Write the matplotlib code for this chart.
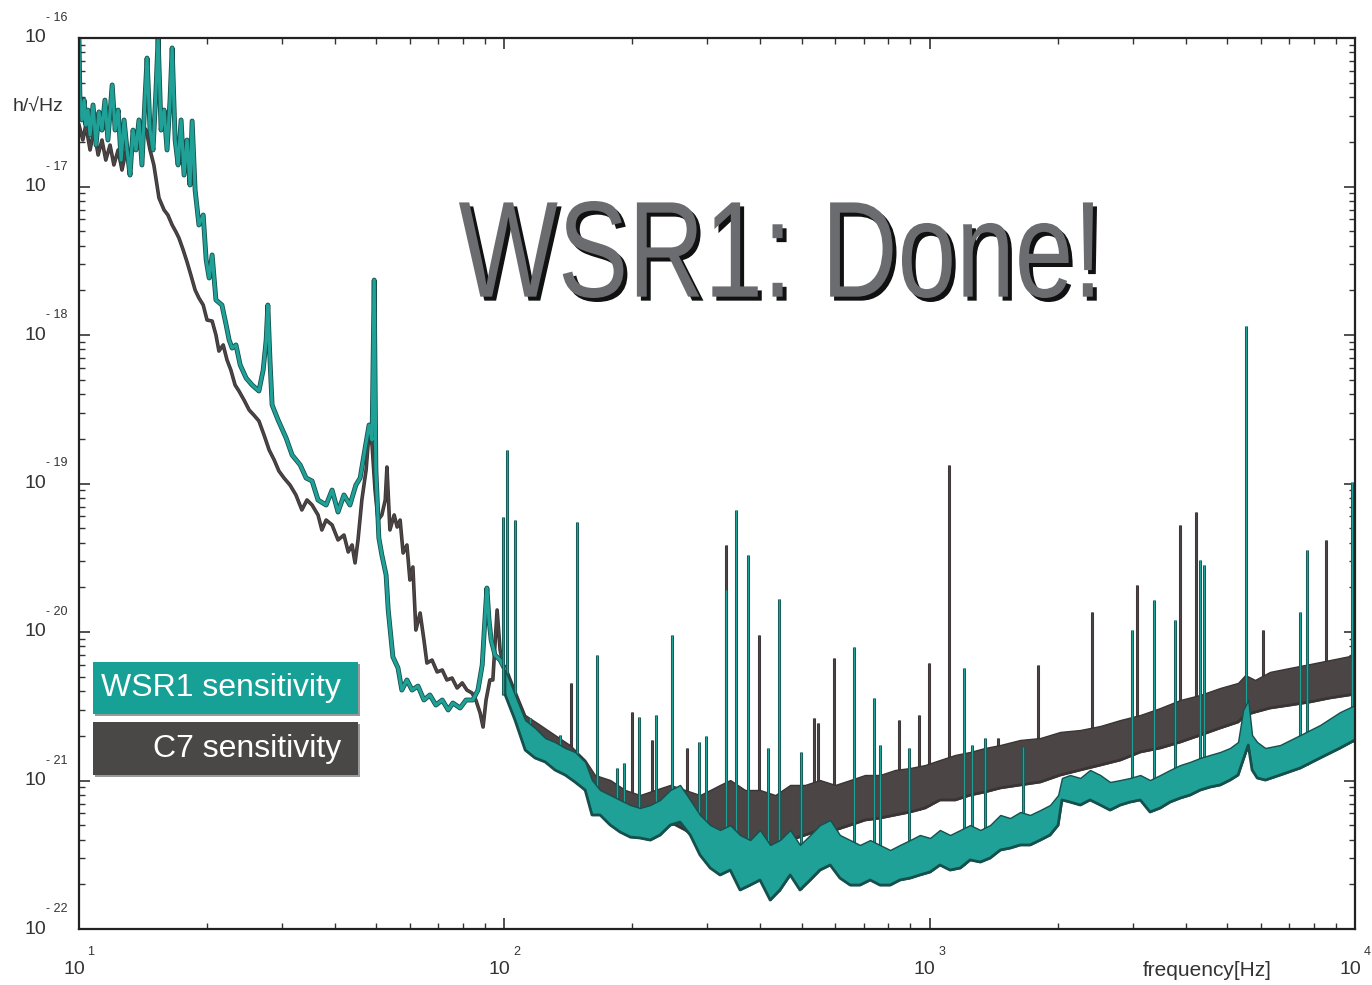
import numpy as np
import matplotlib.pyplot as plt
from matplotlib.textpath import TextPath
from matplotlib.patches import PathPatch, Rectangle
from matplotlib.font_manager import FontProperties
from matplotlib.transforms import Affine2D

# all values are log10(frequency [Hz]), log10(h [1/sqrt(Hz)])

# low frequency part, drawn as thin lines
wsr1_low = [
    (1.000, -16.000), (1.002, -16.384), (1.007, -16.552), (1.012, -16.418), (1.016, -16.586),
    (1.021, -16.485), (1.026, -16.653), (1.033, -16.451), (1.040, -16.721), (1.047, -16.498),
    (1.054, -16.620), (1.061, -16.418), (1.068, -16.687), (1.078, -16.316), (1.085, -16.620),
    (1.092, -16.485), (1.099, -16.822), (1.106, -16.552), (1.113, -16.754), (1.120, -16.923),
    (1.127, -16.620), (1.134, -16.754), (1.141, -16.552), (1.148, -16.855), (1.155, -16.418),
    (1.160, -16.135), (1.167, -16.620), (1.174, -16.754), (1.181, -16.350), (1.186, -16.000),
    (1.193, -16.620), (1.200, -16.485), (1.207, -16.754), (1.214, -16.418), (1.219, -16.067),
    (1.226, -16.687), (1.233, -16.855), (1.240, -16.552), (1.247, -16.923), (1.254, -16.687),
    (1.261, -16.990), (1.266, -16.559), (1.273, -17.024), (1.282, -17.259), (1.292, -17.192),
    (1.299, -17.495), (1.306, -17.616), (1.313, -17.461), (1.322, -17.764), (1.336, -17.798),
    (1.346, -17.933), (1.353, -18.034), (1.360, -18.088), (1.369, -18.067), (1.379, -18.202),
    (1.393, -18.290), (1.407, -18.337), (1.423, -18.377), (1.433, -18.236), (1.440, -18.034),
    (1.444, -17.798), (1.449, -18.168), (1.454, -18.471), (1.468, -18.572), (1.487, -18.694),
    (1.501, -18.808), (1.520, -18.875), (1.534, -18.963), (1.548, -18.983), (1.562, -19.111),
    (1.581, -19.145), (1.595, -19.044), (1.609, -19.192), (1.623, -19.077), (1.637, -19.145),
    (1.651, -19.010), (1.661, -18.963), (1.672, -18.774), (1.682, -18.606), (1.689, -18.707),
    (1.694, -17.630), (1.698, -18.909), (1.705, -19.367), (1.712, -19.481), (1.722, -19.616),
    (1.727, -19.852), (1.738, -20.168), (1.750, -20.242), (1.759, -20.391), (1.771, -20.323),
    (1.783, -20.391), (1.797, -20.364), (1.811, -20.458), (1.825, -20.424), (1.839, -20.492),
    (1.854, -20.458), (1.868, -20.525), (1.879, -20.478), (1.896, -20.512), (1.910, -20.458),
    (1.926, -20.458), (1.938, -20.391), (1.948, -20.222), (1.955, -19.885), (1.959, -19.704),
    (1.964, -19.919), (1.969, -20.054), (1.978, -20.155), (1.990, -20.189), (2.002, -20.256),
]

c7_low = [
    (1.000, -16.586), (1.009, -16.687), (1.016, -16.586), (1.026, -16.754), (1.035, -16.620),
    (1.045, -16.788), (1.054, -16.687), (1.063, -16.822), (1.073, -16.721), (1.082, -16.855),
    (1.092, -16.754), (1.101, -16.889), (1.111, -16.754), (1.120, -16.822), (1.129, -16.687),
    (1.139, -16.606), (1.148, -16.586), (1.158, -16.620), (1.167, -16.754), (1.176, -16.855),
    (1.188, -17.077), (1.200, -17.158), (1.209, -17.192), (1.219, -17.259), (1.228, -17.306),
    (1.235, -17.347), (1.245, -17.428), (1.254, -17.508), (1.263, -17.596), (1.273, -17.697),
    (1.282, -17.751), (1.292, -17.798), (1.301, -17.899), (1.313, -17.906), (1.322, -18.000),
    (1.329, -18.108), (1.339, -18.067), (1.348, -18.168), (1.357, -18.236), (1.367, -18.337),
    (1.376, -18.377), (1.388, -18.438), (1.400, -18.505), (1.411, -18.539), (1.423, -18.579),
    (1.435, -18.673), (1.447, -18.774), (1.459, -18.842), (1.470, -18.916), (1.482, -18.963),
    (1.496, -19.010), (1.510, -19.077), (1.524, -19.178), (1.536, -19.111), (1.548, -19.145),
    (1.562, -19.212), (1.571, -19.313), (1.581, -19.246), (1.595, -19.279), (1.609, -19.380),
    (1.623, -19.347), (1.633, -19.461), (1.642, -19.414), (1.649, -19.535), (1.656, -19.380),
    (1.665, -19.111), (1.675, -18.909), (1.682, -18.653), (1.689, -18.741), (1.696, -19.044),
    (1.703, -19.246), (1.712, -19.212), (1.720, -19.111), (1.724, -18.889), (1.731, -19.313),
    (1.741, -19.212), (1.748, -19.293), (1.755, -19.246), (1.762, -19.468), (1.771, -19.414),
    (1.778, -19.650), (1.785, -19.562), (1.792, -19.987), (1.802, -19.872), (1.811, -20.054),
    (1.818, -20.209), (1.830, -20.189), (1.842, -20.269), (1.854, -20.256), (1.865, -20.323),
    (1.877, -20.310), (1.889, -20.377), (1.901, -20.343), (1.912, -20.391), (1.924, -20.411),
    (1.933, -20.458), (1.943, -20.545), (1.950, -20.640), (1.957, -20.458), (1.966, -20.323),
    (1.973, -20.323), (1.983, -19.852), (1.990, -20.121), (1.997, -20.222), (2.006, -20.323),
]

# noise band above 100 Hz: (log f, top, bottom)
wsr1_band = [
    (2.002, -20.256, -20.424), (2.025, -20.424, -20.593), (2.049, -20.593, -20.795),
    (2.072, -20.646, -20.848), (2.096, -20.714, -20.875), (2.119, -20.741, -20.929),
    (2.143, -20.781, -20.963), (2.166, -20.808, -21.010), (2.190, -20.875, -21.064),
    (2.206, -20.997, -21.232), (2.225, -21.064, -21.232), (2.249, -21.098, -21.300),
    (2.272, -21.131, -21.347), (2.296, -21.165, -21.381), (2.319, -21.185, -21.387),
    (2.343, -21.165, -21.401), (2.366, -21.131, -21.367), (2.390, -21.064, -21.300),
    (2.413, -21.030, -21.280), (2.437, -21.131, -21.367), (2.460, -21.232, -21.502),
    (2.484, -21.300, -21.589), (2.507, -21.333, -21.636), (2.531, -21.300, -21.603),
    (2.554, -21.367, -21.737), (2.578, -21.401, -21.704), (2.601, -21.333, -21.670),
    (2.625, -21.434, -21.805), (2.648, -21.401, -21.737), (2.672, -21.333, -21.636),
    (2.695, -21.434, -21.737), (2.719, -21.367, -21.670), (2.742, -21.300, -21.603),
    (2.766, -21.266, -21.569), (2.789, -21.367, -21.657), (2.813, -21.401, -21.704),
    (2.836, -21.434, -21.704), (2.860, -21.401, -21.670), (2.883, -21.434, -21.704),
    (2.907, -21.468, -21.704), (2.930, -21.434, -21.670), (2.954, -21.401, -21.657),
    (2.977, -21.367, -21.636), (3.001, -21.387, -21.616), (3.024, -21.333, -21.569),
    (3.048, -21.367, -21.603), (3.072, -21.333, -21.589), (3.095, -21.300, -21.535),
    (3.119, -21.333, -21.549), (3.142, -21.300, -21.522), (3.166, -21.232, -21.468),
    (3.189, -21.253, -21.455), (3.213, -21.212, -21.434), (3.236, -21.232, -21.434),
    (3.260, -21.199, -21.401), (3.283, -21.165, -21.367), (3.302, -21.098, -21.300),
    (3.311, -20.983, -21.131), (3.330, -20.963, -21.145), (3.354, -20.983, -21.165),
    (3.377, -20.929, -21.131), (3.401, -20.963, -21.165), (3.424, -21.010, -21.199),
    (3.448, -20.997, -21.165), (3.471, -20.983, -21.145), (3.495, -20.963, -21.131),
    (3.518, -20.997, -21.212), (3.542, -20.963, -21.185), (3.565, -20.929, -21.145),
    (3.589, -20.896, -21.118), (3.612, -20.875, -21.098), (3.636, -20.848, -21.064),
    (3.659, -20.828, -21.044), (3.683, -20.808, -21.030), (3.706, -20.781, -20.997),
    (3.725, -20.741, -20.963), (3.737, -20.525, -20.862), (3.749, -20.458, -20.761),
    (3.758, -20.694, -20.929), (3.770, -20.741, -20.983), (3.789, -20.781, -20.997),
    (3.824, -20.761, -20.963), (3.871, -20.694, -20.916), (3.918, -20.626, -20.848),
    (3.965, -20.539, -20.781), (4.000, -20.492, -20.727),
]

c7_band = [
    (2.002, -20.222, -20.391), (2.025, -20.391, -20.559), (2.049, -20.559, -20.761),
    (2.084, -20.626, -20.828), (2.119, -20.694, -20.896), (2.154, -20.761, -20.963),
    (2.190, -20.862, -21.064), (2.213, -20.963, -21.185), (2.249, -20.997, -21.232),
    (2.284, -21.064, -21.300), (2.319, -21.098, -21.333), (2.354, -21.064, -21.320),
    (2.390, -21.030, -21.280), (2.425, -21.064, -21.333), (2.460, -21.098, -21.401),
    (2.484, -21.064, -21.434), (2.507, -21.030, -21.401), (2.531, -20.997, -21.367),
    (2.566, -21.064, -21.434), (2.601, -21.064, -21.468), (2.637, -21.098, -21.468),
    (2.672, -21.030, -21.401), (2.707, -21.030, -21.367), (2.742, -20.997, -21.333),
    (2.778, -21.030, -21.333), (2.813, -20.997, -21.300), (2.848, -20.963, -21.266),
    (2.883, -20.963, -21.253), (2.919, -20.929, -21.232), (2.954, -20.916, -21.212),
    (2.989, -20.896, -21.185), (3.024, -20.862, -21.131), (3.060, -20.828, -21.131),
    (3.095, -20.808, -21.098), (3.130, -20.781, -21.077), (3.166, -20.761, -21.050),
    (3.213, -20.727, -21.030), (3.260, -20.714, -21.010), (3.307, -20.673, -20.963),
    (3.354, -20.660, -20.929), (3.401, -20.633, -20.896), (3.448, -20.593, -20.862),
    (3.495, -20.559, -20.808), (3.542, -20.512, -20.781), (3.589, -20.458, -20.741),
    (3.636, -20.424, -20.694), (3.683, -20.377, -20.646), (3.725, -20.343, -20.606),
    (3.742, -20.290, -20.559), (3.765, -20.323, -20.539), (3.800, -20.269, -20.512),
    (3.847, -20.242, -20.492), (3.894, -20.216, -20.471), (3.941, -20.189, -20.444),
    (4.000, -20.155, -20.418),
]

# narrow lines: (log f, log h at the tip)
wsr1_lines = [
    (1.997, -19.226), (2.006, -18.774), (2.025, -19.246), (2.060, -20.579), (2.131, -20.694),
    (2.171, -19.259), (2.218, -20.155), (2.265, -20.916), (2.281, -20.882), (2.317, -20.572),
    (2.357, -20.559), (2.394, -20.020), (2.458, -20.741), (2.474, -20.700), (2.521, -19.717),
    (2.545, -19.178), (2.573, -19.481), (2.620, -20.781), (2.646, -19.778), (2.698, -20.808),
    (2.822, -20.101), (2.869, -20.444), (2.883, -20.761), (2.952, -20.781), (3.081, -20.242),
    (3.100, -20.761), (3.130, -20.714), (3.220, -20.774), (3.476, -19.987), (3.528, -19.785),
    (3.577, -19.919), (3.636, -19.515), (3.645, -19.549), (3.744, -17.939), (3.871, -19.865),
    (3.887, -19.448), (3.993, -18.990),
]

c7_lines = [
    (2.157, -20.343), (2.300, -20.539), (2.347, -20.727), (2.430, -20.781), (2.521, -19.414),
    (2.599, -20.020), (2.728, -20.579), (2.738, -20.613), (2.775, -20.175), (2.928, -20.593),
    (2.975, -20.559), (2.999, -20.209), (3.046, -18.875), (3.161, -20.714), (3.255, -20.222),
    (3.382, -19.865), (3.488, -19.683), (3.589, -19.279), (3.626, -19.192), (3.784, -19.987),
    (3.932, -19.380),
]

decades_x = [1, 2, 3, 4]
decades_y = [-16, -17, -18, -19, -20, -21, -22]

teal = "#1fa198"
teal_dark = "#15504c"
grey = "#4b4545"

W, H = 1372, 985
fig = plt.figure(figsize=(W / 100, H / 100), dpi=100)
ax = fig.add_axes([79 / W, 1 - 929 / H, (1355 - 79) / W, (929 - 38) / H])
ax.set_xscale("log")
ax.set_yscale("log")
ax.set_xlim(10, 1e4)
ax.set_ylim(1e-22, 1e-16)


def draw_curve(low, band, lines, color, edge, lw):
    low = np.array(low)
    band = np.array(band)
    lines = np.array(lines)
    ax.plot(10 ** low[:, 0], 10 ** low[:, 1], color=edge, lw=lw + 1.2, zorder=2)
    ax.plot(10 ** low[:, 0], 10 ** low[:, 1], color=color, lw=lw, zorder=2)
    base = np.interp(lines[:, 0], band[:, 0], band[:, 2])
    ax.vlines(10 ** lines[:, 0], 10 ** base, 10 ** lines[:, 1], color=edge, lw=2.2, zorder=2)
    ax.vlines(10 ** lines[:, 0], 10 ** base, 10 ** lines[:, 1], color=color, lw=1.0, zorder=2)
    ax.fill_between(10 ** band[:, 0], 10 ** band[:, 1], 10 ** band[:, 2],
                    facecolor=color, edgecolor=edge, lw=1.0, zorder=2)
    # darker lower rim of the noise band
    ax.plot(10 ** band[:, 0], 10 ** band[:, 2], color=edge, lw=2.0, zorder=2)


draw_curve(c7_low, c7_band, c7_lines, grey, "#3a3434", 1.4)
draw_curve(wsr1_low, wsr1_band, wsr1_lines, teal, teal_dark, 2.3)

for s in ax.spines.values():
    s.set_color("#222222")
    s.set_linewidth(1.6)
ax.tick_params(which="both", direction="in", top=True, right=True,
               labelleft=False, labelbottom=False, color="#333333")
ax.tick_params(which="major", length=8, width=1.2)
ax.tick_params(which="minor", length=4.5, width=1.0)

lab = dict(color="#333333", family="Liberation Sans")
for e in decades_y:
    ax.annotate("10", xy=(0, 10.0 ** e), xycoords=("axes fraction", "data"),
                xytext=(-33, 0), textcoords="offset pixels", ha="right", va="center",
                fontsize=14, **lab)
    ax.annotate("- %d" % -e, xy=(0, 10.0 ** e), xycoords=("axes fraction", "data"),
                xytext=(-33, 20), textcoords="offset pixels", ha="left", va="center",
                fontsize=9, **lab)
for k in decades_x:
    ax.annotate("10", xy=(10.0 ** k, 0), xycoords=("data", "axes fraction"),
                xytext=(-5, -41), textcoords="offset pixels", ha="center", va="center",
                fontsize=14, **lab)
    ax.annotate(str(k), xy=(10.0 ** k, 0), xycoords=("data", "axes fraction"),
                xytext=(12, -23), textcoords="offset pixels", ha="center", va="center",
                fontsize=9, **lab)

fig.text(1207 / W, 1 - 970 / H, "frequency[Hz]", ha="center", va="center",
         fontsize=15, **lab)
fig.text(38 / W, 1 - 107 / H, "h/\u221aHz", ha="center", va="center", fontsize=14,
         color="#333333", family=["Liberation Sans", "DejaVu Sans"])


def big_text(s, x0, x1, y_top, y_bot, color, zorder):
    tp = TextPath((0, 0), s, size=100, prop=FontProperties(family="Liberation Sans"))
    bb = tp.get_extents()
    tr = (Affine2D().translate(-bb.x0, -bb.y0)
          .scale((x1 - x0) / bb.width, (y_bot - y_top) / bb.height)
          .translate(x0, H - y_bot).scale(1 / W, 1 / H))
    fig.add_artist(PathPatch(tr.transform_path(tp), facecolor=color, edgecolor="none",
                             transform=fig.transFigure, zorder=zorder))


big_text("WSR1: Done!", 463, 1097, 205, 302, "#111111", 5)
big_text("WSR1: Done!", 459, 1093, 201, 298, "#6b6c6f", 6)

# legend boxes
for (y0, y1, col, txt, ha, tx) in [(662, 714, "#17a096", "WSR1 sensitivity", "left", 101),
                                   (722, 775, "#4a4747", "C7 sensitivity", "right", 341)]:
    fig.add_artist(Rectangle(((93 + 2) / W, 1 - (y1 + 2) / H), 265 / W, (y1 - y0) / H,
                             transform=fig.transFigure, facecolor="#555555",
                             edgecolor="none", alpha=0.6, zorder=7))
    fig.add_artist(Rectangle((93 / W, 1 - y1 / H), 265 / W, (y1 - y0) / H,
                             transform=fig.transFigure, facecolor=col,
                             edgecolor="none", zorder=8))
    fig.text(tx / W, 1 - (y0 + y1) / 2 / H, txt, ha=ha, va="center", color="white",
             fontsize=23, family="Liberation Sans", zorder=9)

fig.savefig("out.png", dpi=100)
